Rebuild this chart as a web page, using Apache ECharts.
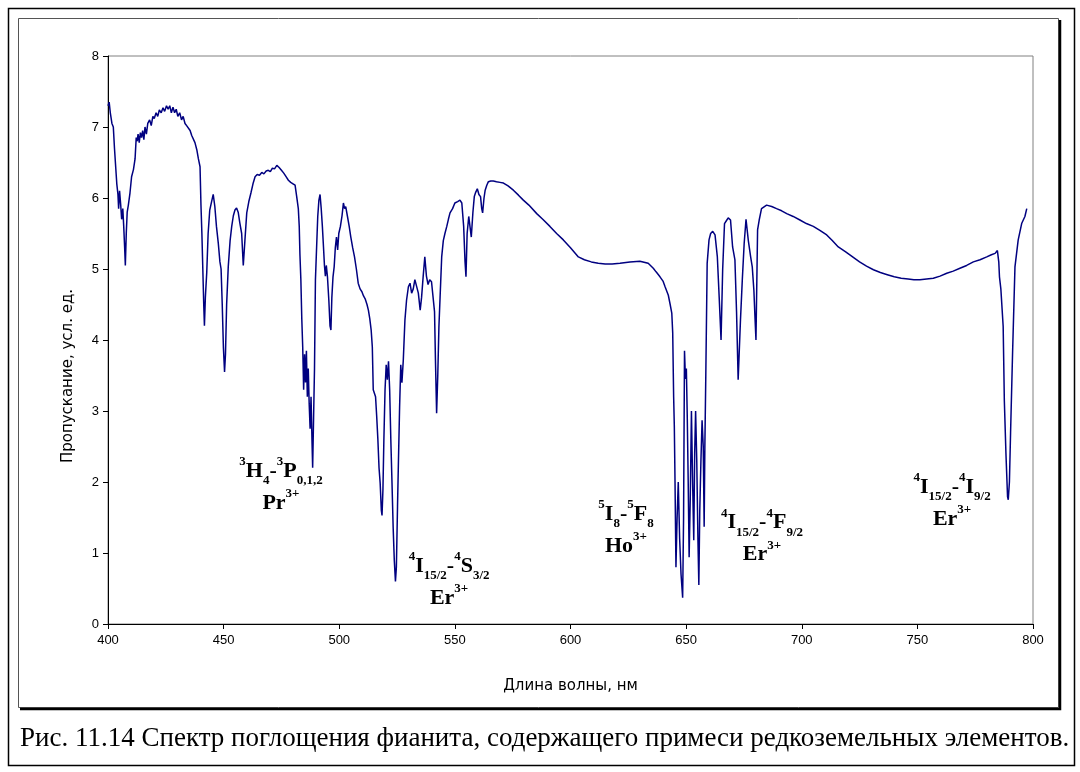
<!DOCTYPE html>
<html>
<head>
<meta charset="utf-8">
<script src="https://cdn.jsdelivr.net/npm/echarts@6/dist/echarts.min.js"></script>
<style>
  html, body { margin: 0; padding: 0; background: #fff; }
  #chart { width: 1080px; height: 772px; }
</style>
</head>
<body>
<div id="chart"></div>
<script>
// Absorption spectrum of cubic zirconia doped with rare-earth ions
const wavelengthNm = [
  400, 400.5, 401, 401.7, 402.3, 402.8, 403.2, 403.8, 404.3, 404.6, 405.0, 405.5, 405.9, 406.4, 406.8, 407.2, 407.5, 407.9, 408.3, 408.8,
  409.5, 410.2, 411, 411.7, 412.2, 412.6, 413, 413.5, 414, 414.5, 415, 415.5, 416, 416.6, 417.2, 418, 418.7, 419.4, 420, 420.8,
  421.5, 422.2, 423, 423.8, 424.5, 425.3, 426, 426.7, 427.4, 428.1, 428.8, 429.5, 430.2, 431, 431.8, 432.5, 433.3, 434, 434.7, 435.5,
  436.2, 436.9, 437.6, 438.4, 439.1, 439.8, 440.2, 440.6, 441, 441.4, 441.7, 442.1, 442.7, 443.3, 444, 444.8, 445.5, 446.2, 446.9, 447.7,
  448.4, 448.9, 449.4, 449.9, 450.4, 450.8, 451.3, 452, 452.8, 453.5, 454.2, 454.9, 455.6, 456.3, 457, 457.8, 458.5, 459.2, 460, 460.9,
  461.8, 462.7, 463.6, 464.5, 465.5, 466.5, 467.4, 468.4, 469.3, 470.2, 471.1, 472, 473, 474, 475, 476, 477, 478, 479, 480,
  480.9, 481.6, 482.3, 482.7, 483, 483.4, 483.8, 484.2, 484.6, 485, 485.4, 485.8, 486.2, 486.6, 487, 487.4, 487.8, 488.2, 488.5, 488.9,
  489.3, 489.7, 490.2, 490.7, 491.2, 491.7, 492.2, 492.7, 493.2, 493.6, 494, 494.4, 494.9, 495.5, 496, 496.4, 496.8, 497.3, 497.8, 498.3,
  498.8, 499.3, 499.8, 500.5, 501.2, 501.8, 502.3, 502.8, 503.5, 504.3, 505, 505.8, 506.6, 507.4, 508.2, 509, 509.8, 510.5, 511.2, 512,
  512.6, 513.2, 513.8, 514.3, 514.7, 515.2, 515.7, 516.2, 516.7, 517.2, 517.7, 518.2, 518.5, 518.9, 519.3, 519.8, 520.3, 520.8, 521.3, 521.8,
  522.3, 522.8, 523.3, 523.8, 524.3, 524.7, 525.2, 525.6, 526.1, 526.6, 527.1, 527.7, 528.4, 529.1, 529.9, 530.6, 531.3, 532, 532.7, 533.5,
  534.2, 535, 535.6, 536.3, 537, 537.7, 538.4, 539.1, 539.9, 540.7, 541.2, 541.6, 542.1, 542.6, 543.1, 543.6, 544.3, 545, 545.7, 546.5,
  547.2, 547.9, 549, 550, 551.2, 552.2, 553, 553.8, 554.4, 554.8, 555.3, 556, 556.5, 557.1, 557.8, 558.4, 559, 559.7, 560.4, 561.1,
  561.6, 562, 562.6, 563.1, 563.8, 564.5, 565.5, 566.6, 568, 569.5, 571, 573, 575.3, 577.5, 579.6, 582, 585.4, 588, 591.1, 594,
  596.9, 600, 603.4, 606, 609, 612, 615, 618, 621.4, 625.7, 630, 633.6, 635.8, 637, 638.7, 640, 640.9, 642.3, 643.1, 643.8,
  644.2, 644.6, 644.9, 645.2, 645.6, 646.1, 646.6, 647.2, 647.8, 648.5, 648.9, 649.3, 649.7, 650.1, 650.5, 650.9, 651.3, 651.8, 652.3, 652.8,
  653.3, 653.7, 654.1, 654.6, 655.1, 655.5, 655.9, 656.4, 656.9, 657.4, 657.8, 658.1, 658.5, 659.1, 659.9, 660.6, 661.5, 662.5, 663.5, 664.3,
  665.1, 665.8, 666.6, 667.4, 668.2, 669.2, 670.1, 671.1, 671.8, 672.5, 673.5, 674.3, 675.1, 675.9, 676.9, 677.9, 678.6, 679.3, 679.8, 680.2,
  680.9, 681.6, 682.6, 684.8, 687, 689.1, 691.3, 693.5, 696.3, 699.2, 702, 705, 708, 710.8, 713.2, 715.8, 719, 722, 725, 728,
  731, 734, 737, 740, 743, 746, 748.5, 751.1, 754, 756.9, 759.8, 762.7, 765.5, 768.4, 771.3, 774.2, 777.1, 780, 782, 783.6,
  784.6, 785.2, 785.5, 786.1, 786.6, 787.1, 787.6, 788.3, 789, 789.3, 789.8, 790.3, 791.2, 792.2, 793.6, 795.1, 796.5, 797.3
];

const transmission = [
  7.30, 7.35, 7.20, 7.05, 7.00, 6.70, 6.50, 6.20, 6.05, 5.85, 6.10, 5.90, 5.70, 5.85, 5.60, 5.30, 5.05, 5.50, 5.80, 5.90,
  6.07, 6.30, 6.40, 6.55, 6.85, 6.80, 6.90, 6.78, 6.92, 6.85, 6.95, 6.82, 7.00, 6.90, 7.05, 7.10, 7.02, 7.15, 7.12, 7.20,
  7.15, 7.24, 7.20, 7.27, 7.22, 7.30, 7.25, 7.30, 7.20, 7.28, 7.20, 7.25, 7.15, 7.20, 7.10, 7.15, 7.05, 7.02, 7.00, 6.95,
  6.88, 6.86, 6.78, 6.68, 6.55, 6.44, 5.90, 5.50, 5.00, 4.50, 4.20, 4.60, 4.95, 5.50, 5.83, 5.95, 6.05, 5.88, 5.60, 5.36,
  5.10, 5.00, 4.50, 3.90, 3.55, 3.80, 4.50, 5.03, 5.40, 5.60, 5.75, 5.83, 5.86, 5.80, 5.65, 5.50, 5.05, 5.40, 5.79, 5.95,
  6.07, 6.20, 6.30, 6.33, 6.32, 6.36, 6.34, 6.38, 6.39, 6.37, 6.42, 6.41, 6.46, 6.43, 6.39, 6.35, 6.30, 6.25, 6.22, 6.20,
  6.18, 6.02, 5.85, 5.60, 5.20, 4.85, 4.30, 3.90, 3.30, 3.80, 3.40, 3.85, 3.20, 3.60, 3.10, 2.75, 3.20, 2.60, 2.20, 2.90,
  3.60, 4.85, 5.30, 5.74, 5.97, 6.05, 5.85, 5.60, 5.30, 5.05, 4.90, 5.05, 4.89, 4.56, 4.20, 4.14, 4.60, 4.89, 5.03, 5.30,
  5.45, 5.27, 5.50, 5.60, 5.75, 5.93, 5.85, 5.88, 5.75, 5.60, 5.45, 5.30, 5.17, 5.00, 4.80, 4.72, 4.68, 4.62, 4.58, 4.50,
  4.42, 4.30, 4.14, 3.90, 3.30, 3.30, 3.20, 2.92, 2.60, 2.20, 1.98, 1.60, 1.53, 1.90, 2.60, 3.30, 3.65, 3.44, 3.70, 3.30,
  2.60, 2.00, 1.37, 0.90, 0.60, 0.80, 1.66, 2.30, 3.06, 3.65, 3.40, 3.72, 4.28, 4.56, 4.75, 4.80, 4.66, 4.72, 4.85, 4.85,
  4.66, 4.42, 4.60, 4.90, 5.17, 4.90, 4.78, 4.85, 4.82, 4.80, 4.40, 3.72, 2.97, 3.50, 4.19, 4.60, 5.17, 5.40, 5.50, 5.60,
  5.70, 5.79, 5.85, 5.93, 5.95, 5.97, 5.93, 5.60, 5.10, 4.89, 5.50, 5.74, 5.74, 5.45, 5.80, 6.02, 6.08, 6.13, 6.05, 6.02,
  5.85, 5.79, 6.00, 6.11, 6.18, 6.23, 6.24, 6.24, 6.23, 6.22, 6.21, 6.17, 6.11, 6.04, 5.97, 5.90, 5.78, 5.70, 5.60, 5.50,
  5.41, 5.30, 5.17, 5.13, 5.10, 5.08, 5.07, 5.07, 5.08, 5.10, 5.11, 5.08, 5.01, 4.96, 4.89, 4.83, 4.75, 4.63, 4.50, 4.38,
  4.10, 3.20, 2.78, 2.00, 0.80, 1.50, 2.00, 1.20, 0.70, 0.37, 1.50, 3.85, 3.45, 3.60, 2.90, 2.00, 0.94, 1.80, 3.00, 2.00,
  1.18, 2.40, 3.00, 2.30, 1.20, 0.55, 1.60, 2.30, 2.87, 2.50, 1.37, 2.50, 3.48, 5.08, 5.41, 5.50, 5.53, 5.48, 5.17, 4.60,
  4.00, 4.99, 5.64, 5.68, 5.72, 5.69, 5.31, 5.13, 4.40, 3.44, 4.28, 4.85, 5.36, 5.70, 5.40, 5.17, 5.03, 4.70, 4.30, 4.00,
  5.55, 5.69, 5.85, 5.90, 5.88, 5.85, 5.82, 5.78, 5.74, 5.69, 5.64, 5.60, 5.54, 5.48, 5.40, 5.31, 5.24, 5.17, 5.10, 5.04,
  4.99, 4.95, 4.92, 4.89, 4.87, 4.86, 4.85, 4.85, 4.86, 4.87, 4.90, 4.94, 4.97, 5.01, 5.05, 5.10, 5.13, 5.17, 5.20, 5.22,
  5.26, 5.10, 4.89, 4.72, 4.70, 4.19, 3.15, 2.40, 1.79, 1.75, 2.00, 2.69, 3.86, 5.03, 5.41, 5.64, 5.74, 5.85
];

// Axis ranges and ticks
const xTicks = { min: 400, max: 800, step: 50 };
const yTicks = { min: 0, max: 8, step: 1 };

// Transition labels: [wavelength, transmission, rich-text content]
const bandLabels = [
  [474.8, 1.93, '{sup|3}{b|H}{sub|4}{b|-}{sup|3}{b|P}{sub|0,1,2}\n{b|Pr}{sup|3+}'],
  [547.5, 0.59, '{sup|4}{b|I}{sub|15/2}{b|-}{sup|4}{b|S}{sub|3/2}\n{b|Er}{sup|3+}'],
  [624.0, 1.32, '{sup|5}{b|I}{sub|8}{b|-}{sup|5}{b|F}{sub|8}\n{b|Ho}{sup|3+}'],
  [682.8, 1.20, '{sup|4}{b|I}{sub|15/2}{b|-}{sup|4}{b|F}{sub|9/2}\n{b|Er}{sup|3+}'],
  [765.0, 1.70, '{sup|4}{b|I}{sub|15/2}{b|-}{sup|4}{b|I}{sub|9/2}\n{b|Er}{sup|3+}']
];

const captionText = 'Рис. 11.14 Спектр поглощения фианита, содержащего примеси редкоземельных элементов.';
const xAxisTitle = 'Длина волны, нм';
const yAxisTitle = 'Пропускание, усл. ед.';

const serif = '"Liberation Serif", "Times New Roman", serif';
const sans = '"Liberation Sans", Arial, sans-serif';
const titleFont = '"DejaVu Sans", Verdana, sans-serif';

const chart = echarts.init(document.getElementById('chart'), null, { renderer: 'canvas' });

const richStyles = {
  b: { fontFamily: serif, fontWeight: 'bold', fontSize: 22, lineHeight: 32, color: '#000' },
  sup: { fontFamily: serif, fontWeight: 'bold', fontSize: 13, lineHeight: 17, verticalAlign: 'top', color: '#000' },
  sub: { fontFamily: serif, fontWeight: 'bold', fontSize: 13, lineHeight: 13, verticalAlign: 'bottom', color: '#000' }
};

chart.setOption({
  animation: false,
  backgroundColor: '#fff',
  grid: {
    left: 108, right: 47, top: 56, bottom: 148,
    show: true, borderColor: '#808080', borderWidth: 1, backgroundColor: 'transparent'
  },
  xAxis: {
    type: 'value',
    min: xTicks.min, max: xTicks.max, interval: xTicks.step,
    name: xAxisTitle, nameLocation: 'middle', nameGap: 55,
    nameTextStyle: { fontFamily: titleFont, fontSize: 15, color: '#000' },
    axisLine: { show: true, onZero: false, lineStyle: { color: '#000', width: 1 } },
    axisTick: { show: true, inside: false, length: 5, lineStyle: { color: '#000' } },
    axisLabel: { fontFamily: sans, fontSize: 13, color: '#000', margin: 10 },
    splitLine: { show: false }
  },
  yAxis: {
    type: 'value',
    min: yTicks.min, max: yTicks.max, interval: yTicks.step,
    axisLine: { show: true, onZero: false, lineStyle: { color: '#000', width: 1 } },
    axisTick: { show: true, inside: false, length: 5, lineStyle: { color: '#000' } },
    axisLabel: { fontFamily: sans, fontSize: 13, color: '#000', margin: 9 },
    splitLine: { show: false }
  },
  series: [{
    type: 'line',
    data: wavelengthNm.map((w, i) => [w, transmission[i]]),
    showSymbol: false,
    symbol: 'none',
    lineStyle: { color: '#000080', width: 1.5 },
    z: 3,
    markPoint: {
      symbol: 'circle',
      symbolSize: 0,
      silent: true,
      label: {
        show: true,
        position: 'inside',
        align: 'center',
        verticalAlign: 'middle',
        rich: richStyles
      },
      data: bandLabels.map(([x, y, txt]) => ({
        coord: [x, y],
        label: { formatter: txt }
      }))
    }
  }],
  graphic: [
    // outer page frame
    { type: 'rect', silent: true, z: -10,
      shape: { x: 8.5, y: 8.5, width: 1066, height: 757 },
      style: { fill: 'none', stroke: '#000', lineWidth: 1.5 } },
    // chart area frame with drop shadow on the right and bottom
    { type: 'rect', silent: true, z: -9,
      shape: { x: 18.5, y: 18.5, width: 1040, height: 689 },
      style: { fill: 'none', stroke: '#555', lineWidth: 1 } },
    { type: 'polyline', silent: true, z: -9,
      shape: { points: [[1060, 20], [1060, 709], [20, 709]] },
      style: { fill: 'none', stroke: '#000', lineWidth: 2.5 } },
    // vertical axis title
    { type: 'text', silent: true, x: 68, y: 376, rotation: Math.PI / 2,
      style: { text: yAxisTitle, fontFamily: titleFont, fontSize: 15, fill: '#000',
               align: 'center', verticalAlign: 'middle' } },
    // figure caption
    { type: 'text', silent: true,
      style: { x: 20, y: 739, text: captionText, fontFamily: serif, fontSize: 27,
               fill: '#000', verticalAlign: 'middle' } }
  ]
});
</script>
</body>
</html>
